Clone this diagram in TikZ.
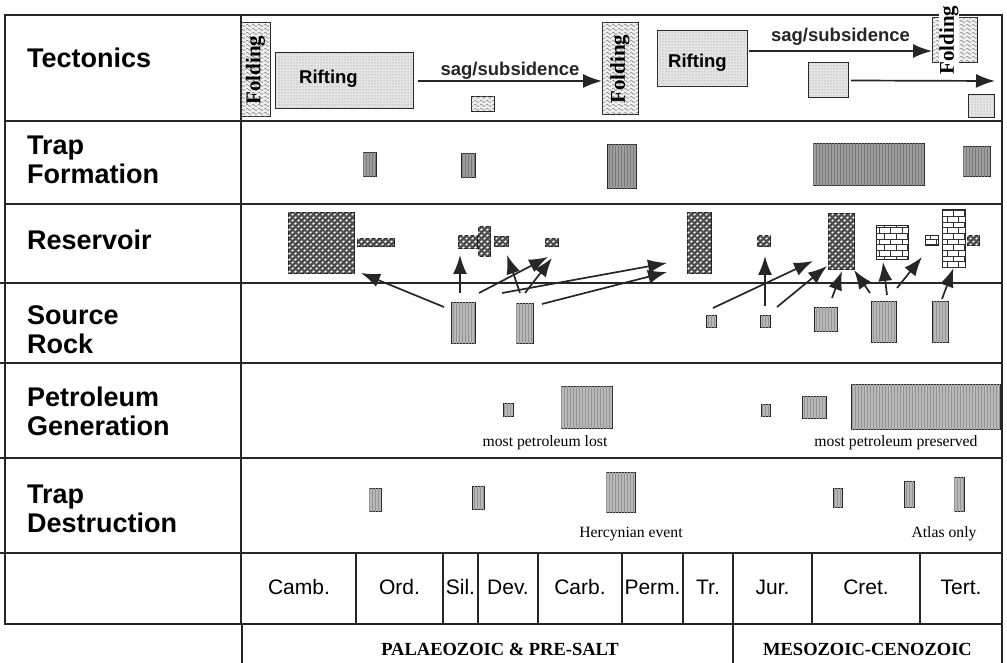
\documentclass[tikz,border=0pt]{standalone}
\usepackage{fontspec}
\setmainfont{Liberation Serif}
\setsansfont{Liberation Sans}
\usetikzlibrary{calc}
\usetikzlibrary{patterns}
\usetikzlibrary{arrows.meta}

\pgfdeclarepatternformonly{wavy}{\pgfpointorigin}{\pgfqpoint{6pt}{4pt}}{\pgfqpoint{6pt}{4pt}}{%
  \pgfsetlinewidth{0.5pt}%
  \pgfpathmoveto{\pgfqpoint{0pt}{2pt}}%
  \pgfpathcurveto{\pgfqpoint{1.5pt}{4pt}}{\pgfqpoint{1.5pt}{4pt}}{\pgfqpoint{3pt}{2pt}}%
  \pgfpathcurveto{\pgfqpoint{4.5pt}{0pt}}{\pgfqpoint{4.5pt}{0pt}}{\pgfqpoint{6pt}{2pt}}%
  \pgfusepath{stroke}%
}
\pgfdeclarepatternformonly{pebbles}{\pgfqpoint{-1pt}{-1pt}}{\pgfqpoint{7pt}{7pt}}{\pgfqpoint{6pt}{6pt}}{%
  \pgfpathellipse{\pgfqpoint{1.5pt}{1.4pt}}{\pgfqpoint{1.6pt}{0.5pt}}{\pgfqpoint{0pt}{1.1pt}}%
  \pgfpathellipse{\pgfqpoint{4.6pt}{4.5pt}}{\pgfqpoint{1.4pt}{0.6pt}}{\pgfqpoint{0pt}{1.1pt}}%
  \pgfusepath{fill}%
}

% box from corner (x1,y1) to (x2,y2): name, style, x1, y1, x2, y2
\newcommand{\bx}[6]{\node[#2, minimum width={(#5-#3)*1pt}, minimum height={(#6-#4)*1pt}] (#1) at ({(#3+#5)/2},{(#4+#6)/2}) {};}

\begin{document}
\begin{tikzpicture}[x=1pt, y=-1pt,
    rule/.style={line width=1.3pt, black!85},
    blk/.style={draw=black!85, line width=1pt, inner sep=0pt, outer sep=0pt},
    fold/.style={blk, fill=black!6, postaction={pattern=wavy, pattern color=black!55}},
    stip/.style={blk, fill=black!10, postaction={pattern=dots, pattern color=black!50}},
    hatch/.style={blk, fill=black!28, postaction={pattern=vertical lines, pattern color=black!42}},
    darkhatch/.style={blk, fill=black!38, postaction={pattern=vertical lines, pattern color=black!52}},
    conglom/.style={blk, fill=black!70, postaction={pattern=pebbles, pattern color=white}},
    brick/.style={blk, fill=white, postaction={pattern=bricks, pattern color=black!80}},
    arr/.style={line width=1.7pt, black!85, -{Latex[length=19pt,width=14pt]}},
    rowlabel/.style={font=\sffamily\bfseries\fontsize{27}{29}\selectfont, align=left, anchor=base west, inner sep=0pt},
    period/.style={font=\sffamily\fontsize{21}{21}\selectfont, anchor=base, inner sep=0pt},
    note/.style={font=\fontsize{15.7}{16}\selectfont, anchor=base, inner sep=0pt},
    era/.style={font=\bfseries\fontsize{18.5}{19}\selectfont, anchor=base, inner sep=0pt},
    tect/.style={font=\sffamily\bfseries\fontsize{18.5}{19}\selectfont, inner sep=0pt},
    foldtext/.style={font=\bfseries\fontsize{21}{21}\selectfont, rotate=90, inner sep=0pt}]
\useasboundingbox (0,0) rectangle (1007,663);

% table
\draw[rule] (5,15) rectangle (1002,624);
\draw[rule] (241,15) -- (241,624);
\draw[rule] (5,121) -- (1002,121);
\draw[rule] (5,204) -- (1002,204);
\draw[rule] (0,283) -- (1002,283);
\draw[rule] (0,363) -- (1002,363);
\draw[rule] (0,458) -- (1002,458);
\draw[rule] (0,553) -- (1002,553);
\foreach \x in {356,443,478,538,622,683,733,812,920}
    \draw[rule] (\x,553) -- (\x,624);
\draw[rule, line width=2.2pt] (241,624) -- (1002,624);
\draw[rule] (242,624) -- (242,663) (733,624) -- (733,663) (1002,624) -- (1002,663);

% base anchor sits on the last line
\node[rowlabel] (lbTect) at (27,68) {Tectonics};
\node[rowlabel] (lbTrapF) at (27,184) {Trap\\Formation};
\node[rowlabel] (lbRes) at (27,250) {Reservoir};
\node[rowlabel] (lbSrc) at (27,353) {Source\\Rock};
\node[rowlabel] (lbGen) at (27,435) {Petroleum\\Generation};
\node[rowlabel] (lbTrapD) at (27,532) {Trap\\Destruction};

\foreach \a/\b/\t [count=\i] in {242/356/Camb., 356/443/Ord., 443/478/Sil., 478/538/Dev., 538/622/Carb., 622/683/Perm., 683/733/Tr., 733/812/Jur., 812/920/Cret., 920/1002/Tert.}
    \node[period] (per\i) at ({(\a+\b)/2},594) {\t};
\node[era] (eraPal) at (500,655) {PALAEOZOIC \& PRE-SALT};
\node[era] (eraMes) at (867.5,655) {MESOZOIC-CENOZOIC};

% tectonics
\bx{fold1}{fold}{241}{23}{270}{117}
\node[foldtext] (fold1t) at (fold1) {Folding};
\bx{rift1}{stip}{275}{53}{413}{109}
\node[tect, anchor=base west] (rift1t) at (299,84) {Rifting};
\bx{sag1}{fold}{471}{97}{494}{112}
\bx{fold2}{fold}{602}{23}{638}{115}
\node[foldtext] (fold2t) at (fold2) {Folding};
\bx{rift2}{stip}{657}{31}{747}{87}
\node[tect, anchor=base west] (rift2t) at (668,68) {Rifting};
\bx{sub2}{stip}{808}{63}{848}{98}
\bx{fold3}{fold}{932}{18}{977}{63}
\bx{sub3}{stip}{968}{95}{994}{118}
\node[foldtext, fill=white, inner xsep=2pt] (fold3t) at (949,40) {Folding};

\draw[arr] ($(rift1.east)+(5,0)$) -- (rift1.east -| fold2.west) node[midway, above=1pt, tect] (sag1t) {sag/subsidence};
\coordinate (sag2s) at ($(rift2.east)+(2,-8)$);
\draw[arr] (sag2s) -- (sag2s -| fold3.west) node[midway, above=5pt, tect] (sag2t) {sag/subsidence};
\coordinate (tectEnd) at (995,81);
\draw[arr] ($(sub2.east)+(3,0)$) -- (tectEnd);

% trap formation
\bx{tf1}{darkhatch}{363}{153}{376}{177}
\bx{tf2}{darkhatch}{461}{154}{475}{178}
\bx{tf3}{darkhatch}{607}{145}{636}{189}
\bx{tf4}{darkhatch}{813}{144}{924}{186}
\bx{tf5}{darkhatch}{963}{147}{990}{177}

% reservoir
\bx{rs1}{conglom}{288}{213}{354}{274}
\bx{rs2}{conglom}{357}{239}{394}{247}
\bx{rs3}{conglom}{458}{236}{477}{249}
\bx{rs4}{conglom}{478}{227}{490}{257}
\bx{rs5}{conglom}{494}{237}{508}{247}
\bx{rs6}{conglom}{545}{239}{558}{247}
\bx{rs7}{conglom}{687}{213}{711}{274}
\bx{rs8}{conglom}{757}{236}{770}{247}
\bx{rs9}{conglom}{828}{214}{854}{270}
\bx{rs10}{brick}{876}{226}{908}{260}
\bx{rs11}{brick}{925}{236}{938}{246}
\bx{rs12}{brick}{942}{210}{965}{268}
\bx{rs13}{conglom}{967}{236}{979}{246}

% source rock
\bx{sr1}{hatch}{451}{302}{475}{343}
\bx{sr2}{hatch}{516}{303}{533}{343}
\bx{sr3}{hatch}{706}{315}{716}{327}
\bx{sr4}{hatch}{760}{315}{770}{327}
\bx{sr5}{hatch}{814}{307}{837}{331}
\bx{sr6}{hatch}{871}{301}{896}{342}
\bx{sr7}{hatch}{932}{301}{948}{342}

\draw[arr] ($(sr1.north west)+(-7,5)$) -- ($(rs1.south east)+(7,-1)$);
\draw[arr] ($(sr1.north)+(-3,-9)$) -- ($(rs3.south)+(-7.5,6)$);
\draw[arr] ($(sr1.north east)+(4,-9)$) -- ($(rs6.south)+(-3.5,10)$);
\draw[arr] ($(sr2.north)+(-4.5,-10)$) -- ($(rs5.south east)+(-1,8)$);
\draw[arr] ($(sr2.north)+(0.5,-10)$) -- ($(rs6.south)+(0.5,11)$);
\draw[arr] ($(sr2.north west)+(-14,-10)$) -- ($(rs7.south west)+(-20,-11)$);
\draw[arr] ($(sr2.north east)+(9,1)$) -- ($(rs7.south west)+(-20,-2)$);
\draw[arr] ($(sr3.north)+(2,-7)$) -- ($(rs9.south west)+(-15,-9)$);
\draw[arr] ($(sr4.north)+(0,-9)$) -- ($(rs8.south)+(1.5,9)$);
\draw[arr] ($(sr4.north east)+(7,-8)$) -- ($(rs9.south west)+(-1,-4)$);
\draw[arr] ($(sr5.north east)+(-5,-9)$) -- ($(rs9.south)+(1,1)$);
\draw[arr] ($(sr6.north west)+(-1,-8)$) -- (rs9.south east);
\draw[arr] ($(sr6.north)+(3.5,-6)$) -- ($(rs10.south)+(-9,2)$);
\draw[arr] ($(sr6.north east)+(1,-13)$) -- ($(rs11.south)+(-9.5,11)$);
\draw[arr] ($(sr7.north)+(2,-2)$) -- (rs12.south);

% petroleum generation
\bx{pg1}{hatch}{503}{403}{513}{416}
\bx{pg2}{hatch}{561}{386}{612}{428}
\bx{pg3}{hatch}{761}{404}{770}{416}
\bx{pg4}{hatch}{802}{396}{826}{418}
\bx{pg5}{hatch}{851}{384}{1000}{429}
\node[note] (lost) at (545,446) {most petroleum lost};
\node[note] (kept) at (896,446) {most petroleum preserved};

% trap destruction
\bx{td1}{hatch}{369}{488}{381}{511}
\bx{td2}{hatch}{472}{486}{484}{509}
\bx{td3}{hatch}{606}{472}{635}{512}
\bx{td4}{hatch}{833}{488}{842}{507}
\bx{td5}{hatch}{904}{481}{914}{507}
\bx{td6}{hatch}{954}{477}{964}{511}
\node[note] (herc) at (631,537) {Hercynian event};
\node[note] (atlas) at (944,537) {Atlas only};
\end{tikzpicture}
\end{document}
